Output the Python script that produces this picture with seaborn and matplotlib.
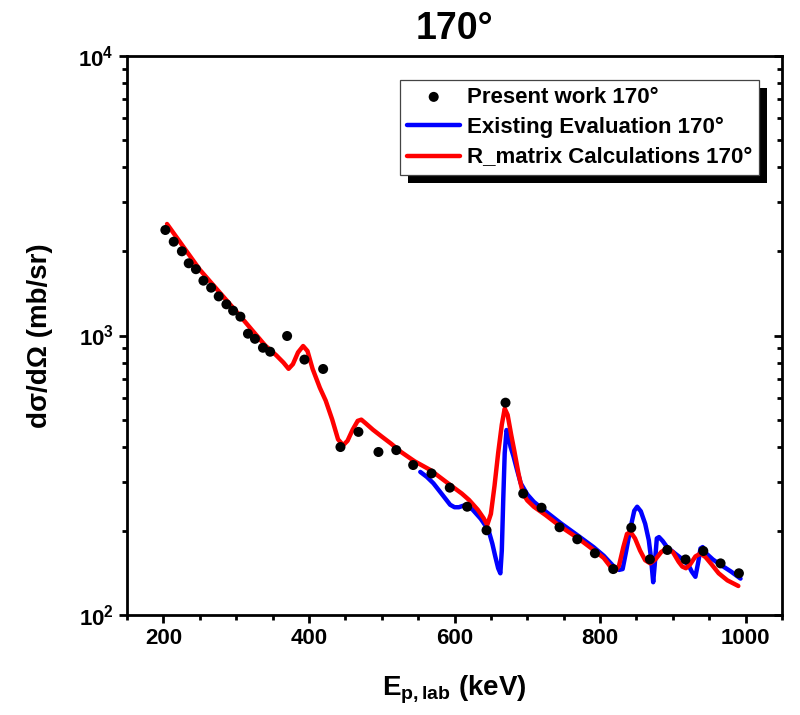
import matplotlib
matplotlib.use("Agg")
import matplotlib.pyplot as plt
import seaborn as sns
import pandas as pd
from matplotlib.ticker import FixedLocator, LogLocator, NullFormatter, MultipleLocator
from matplotlib.patches import Rectangle

# ---------------- data ----------------
exp_E = [202.7, 214.2, 225.4, 234.8, 244.7, 255.0, 265.6, 276.0, 286.6, 295.8, 305.8,
         316.2, 325.8, 336.8, 346.7, 370.0, 393.8, 419.5, 443.3, 468.0, 495.5, 520.0,
         543.2, 568.4, 593.5, 617.4, 644.0, 670.1, 694.4, 719.6, 744.3, 768.7, 792.9,
         818.1, 842.9, 868.5, 892.4, 917.5, 941.9, 965.6, 990.8]
exp_xs = [2385, 2166, 2001, 1813, 1727, 1571, 1483, 1380, 1293, 1227, 1168,
          1015, 973, 904, 875, 996, 820, 759, 399, 452, 383, 389,
          344, 321, 285.5, 244, 201, 575, 272, 242, 206, 186.6, 166.3,
          146, 205.3, 158.2, 170.9, 158, 169.4, 153, 141]

eval_E = [553, 562, 571, 583, 594, 600, 606, 612, 617, 625, 636, 643, 647, 652, 656,
          660, 663, 665, 667, 669, 671.5, 674, 677, 681, 686, 691, 700, 709, 725, 746,
          770, 791, 805, 819, 826, 831, 836, 842, 847, 851, 856, 862, 867, 870, 873,
          875, 878, 881, 886, 892, 903, 915, 922, 926, 931, 935, 938, 941, 946, 955,
          966, 980, 993]
eval_xs = [325, 312, 296, 270, 248, 243, 243, 246, 247, 238, 221, 208, 200, 180, 162,
           147, 141, 170, 260, 380, 459, 440, 400, 370, 330, 296, 270, 254, 235, 213,
           192, 175, 163, 149, 145, 146, 170, 206, 236, 244, 235, 212, 185, 160, 131,
           150, 188, 190, 184, 175, 166, 157, 150, 143, 137, 155, 173, 175, 166, 158,
           151, 143, 135]

rm_E = [205, 250, 300, 340, 355, 365, 372, 378, 385, 392, 398, 405, 415, 423, 432,
        440, 447, 453, 460, 467, 472, 478, 488, 500, 513, 526, 545, 567, 594, 610,
        620, 632, 640, 645, 650, 655, 660, 665, 669, 673, 678, 682, 688, 694, 700,
        709, 725, 746, 770, 791, 805, 815, 821, 826, 832, 837, 842, 848, 855, 862,
        869, 876, 884, 892, 900, 908, 913, 918, 924, 931, 938, 945, 953, 963, 975, 990]
rm_xs = [2506, 1720, 1220, 920, 850, 800, 760, 790, 870, 917, 880, 760, 650, 585, 500,
         425, 405, 420, 460, 495, 500, 485, 460, 435, 410, 384, 355, 330, 292, 272,
         258, 238, 222, 210, 230, 290, 380, 480, 548, 520, 440, 389, 320, 272, 257,
         244, 228, 207, 188, 171, 160, 148, 144, 150, 175, 195, 198, 188, 170, 157,
         153, 158, 168, 173, 168, 155, 149, 147, 152, 162, 166, 161, 152, 141, 133, 127]

lab_exp = "Present work 170°"
lab_eval = "Existing Evaluation 170°"
lab_rm = "R_matrix Calculations 170°"

x_major = [200, 400, 600, 800, 1000]
y_major = [100, 1000, 10000]
y_labels = [r"$\mathbf{10^{2}}$", r"$\mathbf{10^{3}}$", r"$\mathbf{10^{4}}$"]

# ---------------- style ----------------
sns.set_style("ticks")
plt.rcParams["font.family"] = ["Liberation Sans", "DejaVu Sans"]
plt.rcParams["font.weight"] = "bold"
plt.rcParams["text.color"] = "black"
plt.rcParams["axes.labelcolor"] = "black"
plt.rcParams["xtick.color"] = "black"
plt.rcParams["ytick.color"] = "black"
plt.rcParams["mathtext.fontset"] = "custom"
plt.rcParams["mathtext.bf"] = "Liberation Sans:bold"
plt.rcParams["mathtext.rm"] = "Liberation Sans:bold"
plt.rcParams["mathtext.it"] = "Liberation Sans:bold"

fig = plt.figure(figsize=(8.0, 7.15), dpi=100)
ax = fig.add_axes([0.15875, 0.13986, 0.81875, 0.7818])

df_exp = pd.DataFrame({"E": exp_E, "xs": exp_xs})
df_eval = pd.DataFrame({"E": eval_E, "xs": eval_xs})
df_rm = pd.DataFrame({"E": rm_E, "xs": rm_xs})

sns.lineplot(data=df_eval, x="E", y="xs", ax=ax, color="#0000ff", lw=3.2,
             label=lab_eval, sort=False, zorder=2)
sns.lineplot(data=df_rm, x="E", y="xs", ax=ax, color="#ff0000", lw=3.2,
             label=lab_rm, sort=False, zorder=3)
sns.scatterplot(data=df_exp, x="E", y="xs", ax=ax, color="black", s=52,
                edgecolor="none", label=lab_exp, zorder=4)

ax.set_yscale("log")
ax.set_xlim(150, 1050)
ax.set_ylim(100, 10000)

ax.xaxis.set_major_locator(FixedLocator(x_major))
ax.xaxis.set_minor_locator(MultipleLocator(50))
ax.set_yticks(y_major)
ax.set_yticklabels(y_labels)
ax.yaxis.set_minor_locator(LogLocator(base=10, subs=range(2, 10)))
ax.yaxis.set_minor_formatter(NullFormatter())

for s in ax.spines.values():
    s.set_linewidth(2.0)
    s.set_color("black")
    s.set_visible(True)

ax.tick_params(axis="both", which="major", direction="out", length=6, width=2,
               labelsize=16, color="black", labelcolor="black")
ax.tick_params(axis="both", which="minor", direction="out", length=3.5, width=2,
               color="black")
ax.tick_params(top=False, right=False, which="both")
for lbl in ax.get_xticklabels() + ax.get_yticklabels():
    lbl.set_fontweight("bold")

# right axis: inward ticks, no labels
ax2 = ax.twinx()
ax2.set_yscale("log")
ax2.set_ylim(100, 10000)
ax2.set_yticks(y_major)
ax2.yaxis.set_minor_locator(LogLocator(base=10, subs=range(2, 10)))
ax2.yaxis.set_minor_formatter(NullFormatter())
ax2.tick_params(axis="y", which="major", direction="in", length=6, width=2,
                labelright=False, color="black")
ax2.tick_params(axis="y", which="minor", direction="in", length=3.5, width=2,
                color="black")
for s in ax2.spines.values():
    s.set_visible(False)

ax.set_xlabel(r"$\mathbf{E_{p,lab}}$ (keV)", fontsize=20, fontweight="bold",
              labelpad=18, color="black")
ax.set_ylabel("dσ/dΩ (mb/sr)", fontsize=20, fontweight="bold", labelpad=18,
              color="black")
ax.set_title("170°", fontsize=27, fontweight="bold", pad=12, color="black")

# legend
handles, labels = ax.get_legend_handles_labels()
order = [labels.index(lab_exp), labels.index(lab_eval), labels.index(lab_rm)]
leg = ax.legend([handles[i] for i in order], [labels[i] for i in order],
                loc="upper right", bbox_to_anchor=(0.965, 0.957),
                borderaxespad=0, frameon=True, fancybox=False,
                prop={"weight": "bold", "size": 16},
                handlelength=2.4, handletextpad=0.3, borderpad=0.3,
                labelspacing=0.42)
for t in leg.get_texts():
    t.set_color("black")
leg.get_frame().set_edgecolor("#444444")
leg.get_frame().set_linewidth(0.9)
leg.get_frame().set_alpha(1)
leg.set_zorder(10)

fig.canvas.draw()
bb = leg.get_window_extent()
inv = ax.transAxes.inverted()
(x0, y0) = inv.transform((bb.x0 + 8, bb.y0 - 8))
(x1, y1) = inv.transform((bb.x1 + 8, bb.y1 - 8))
shadow = Rectangle((x0, y0), x1 - x0, y1 - y0, transform=ax.transAxes,
                   facecolor="black", edgecolor="none", zorder=9, clip_on=False)
ax.add_patch(shadow)

fig.savefig("out.png", dpi=100)
